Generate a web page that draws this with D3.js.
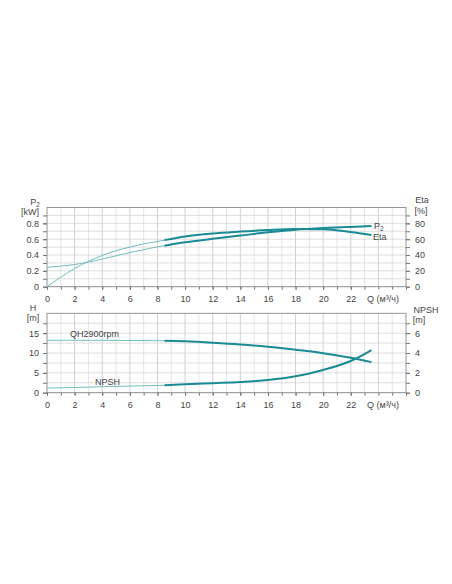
<!DOCTYPE html>
<html>
<head>
<meta charset="utf-8">
<script src="https://cdn.jsdelivr.net/npm/d3@7"></script>
<style>
  body { margin: 0; background: #fff; }
  svg text { font-family: "Liberation Sans", Arial, sans-serif; fill: #444; }
</style>
</head>
<body>
<div id="chart"></div>
<script>
// flow values (m3/h) where the curves were read
const qTop = [0, 1, 2, 3, 4, 5, 6, 7, 8, 8.5, 10, 12, 14, 16, 18, 20, 22, 23.5];
const p2Values = [0.245, 0.26, 0.28, 0.31, 0.35, 0.39, 0.43, 0.468, 0.503, 0.518, 0.56, 0.605, 0.645, 0.686, 0.72, 0.74, 0.755, 0.765];
const etaValues = [0, 12, 23, 32, 39.5, 45.5, 50, 54, 57, 58.8, 63.5, 67.3, 69.6, 71.5, 72.7, 72.5, 69, 65.2];

const qBottom = [0, 2, 4, 6, 8, 8.5, 10, 12, 14, 16, 18, 20, 22, 23.5];
const hValues = [13.2, 13.2, 13.2, 13.15, 13.1, 13.1, 12.95, 12.6, 12.15, 11.55, 10.8, 9.95, 8.8, 7.7];
const npshValues = [0.47, 0.52, 0.6, 0.67, 0.73, 0.74, 0.84, 0.96, 1.08, 1.28, 1.65, 2.29, 3.19, 4.3];

const qTicks = [0, 2, 4, 6, 8, 10, 12, 14, 16, 18, 20, 22];
const p2Ticks = [0, 0.2, 0.4, 0.6, 0.8];
const etaTicks = [0, 20, 40, 60, 80];
const hTicks = [0, 5, 10, 15];
const npshTicks = [0, 2, 4, 6];

const splitQ = 8.5;
const thinColor = '#72bfbf';
const thickColor = '#1a8b95';

const width = 452, height = 584;
const left = 47, right = 406;

const svg = d3.select('#chart')
    .append('svg')
    .attr('width', width)
    .attr('height', height);

const x = d3.scaleLinear().domain([0, 26]).range([left, right]);

const drawPanel = (top, bottom, yL, yR, leftTicks, rightTicks, minorL, minorR, fmtL) => {
    const g = svg.append('g');

    // grid
    g.append('g')
        .selectAll('line')
        .data(d3.range(1, 26))
        .join('line')
        .attr('x1', d => x(d)).attr('x2', d => x(d))
        .attr('y1', top).attr('y2', bottom)
        .attr('stroke', d => d % 2 === 0 ? '#c4c4c4' : '#dedede')
        .attr('stroke-width', 0.8);

    g.append('g')
        .selectAll('line')
        .data(minorL)
        .join('line')
        .attr('x1', left).attr('x2', right)
        .attr('y1', d => yL(d)).attr('y2', d => yL(d))
        .attr('stroke', '#d6d6d6')
        .attr('stroke-width', 0.8);

    // frame
    g.append('rect')
        .attr('x', left).attr('y', top)
        .attr('width', right - left).attr('height', bottom - top)
        .attr('fill', 'none')
        .attr('stroke', '#8a8a8a')
        .attr('stroke-width', 0.9);

    const styleAxis = a => {
        a.select('.domain').remove();
        a.selectAll('line').attr('stroke', '#777');
        a.selectAll('text').attr('font-size', '9px').attr('fill', '#444');
    };

    g.append('g')
        .attr('transform', `translate(${left},0)`)
        .call(d3.axisLeft(yL).tickValues(minorL).tickSize(4).tickFormat(() => ''))
        .call(styleAxis);
    g.append('g')
        .attr('transform', `translate(${left},0)`)
        .call(d3.axisLeft(yL).tickValues(leftTicks).tickSize(4).tickPadding(4).tickFormat(fmtL))
        .call(styleAxis);

    g.append('g')
        .attr('transform', `translate(${right},0)`)
        .call(d3.axisRight(yR).tickValues(minorR).tickSize(4).tickFormat(() => ''))
        .call(styleAxis);
    g.append('g')
        .attr('transform', `translate(${right},0)`)
        .call(d3.axisRight(yR).tickValues(rightTicks).tickSize(4).tickPadding(5))
        .call(styleAxis);

    g.append('g')
        .attr('transform', `translate(0,${bottom})`)
        .call(d3.axisBottom(x).tickValues(d3.range(0, 27)).tickSize(3).tickFormat(() => ''))
        .call(styleAxis);
    g.append('g')
        .attr('transform', `translate(0,${bottom})`)
        .call(d3.axisBottom(x).tickValues(qTicks).tickSize(3).tickPadding(6))
        .call(styleAxis);

    g.append('text')
        .attr('x', 383).attr('y', bottom + 15)
        .attr('text-anchor', 'middle')
        .attr('font-size', '9px')
        .text('Q (м³/ч)');

    return g;
};

const drawCurve = (g, xs, ys, yScale) => {
    const pts = xs.map((q, i) => [q, ys[i]]);
    const line = d3.line()
        .x(d => x(d[0]))
        .y(d => yScale(d[1]))
        .curve(d3.curveMonotoneX);
    g.append('path')
        .attr('d', line(pts.filter(d => d[0] <= splitQ)))
        .attr('fill', 'none')
        .attr('stroke', thinColor)
        .attr('stroke-width', 1);
    g.append('path')
        .attr('d', line(pts.filter(d => d[0] >= splitQ)))
        .attr('fill', 'none')
        .attr('stroke', thickColor)
        .attr('stroke-width', 2);
};

const subLabel = (g, px, py, base, sub, anchor) => {
    const t = g.append('text')
        .attr('x', px).attr('y', py)
        .attr('font-size', '9px')
        .attr('text-anchor', anchor || 'start');
    t.append('tspan').text(base);
    if (sub) t.append('tspan').attr('font-size', '6.5px').attr('dy', 1.5).text(sub);
    return t;
};

// top panel: P2 and Eta
const topT = 207.5, topB = 286.7;
const yP2 = d3.scaleLinear().domain([0, 1]).range([topB, topT]);
const yEta = d3.scaleLinear().domain([0, 100]).range([topB, topT]);
const gTop = drawPanel(topT, topB, yP2, yEta, p2Ticks, etaTicks,
    d3.range(0, 10).map(d => d / 10), d3.range(0, 100, 10), d => d === 0 ? '0' : d3.format('.1f')(d));

drawCurve(gTop, qTop, p2Values, yP2);
drawCurve(gTop, qTop, etaValues, yEta);

subLabel(gTop, 35, 205, 'P', '2', 'middle');
gTop.append('text').attr('x', 30).attr('y', 215).attr('font-size', '9px').attr('text-anchor', 'middle').text('[kW]');
gTop.append('text').attr('x', 422).attr('y', 203).attr('font-size', '9px').attr('text-anchor', 'middle').text('Eta');
gTop.append('text').attr('x', 421).attr('y', 214).attr('font-size', '9px').attr('text-anchor', 'middle').text('[%]');
subLabel(gTop, 374, 229, 'P', '2');
gTop.append('text').attr('x', 373).attr('y', 240).attr('font-size', '9px').text('Eta');

// bottom panel: H and NPSH
const botT = 313.3, botB = 392.7;
const yH = d3.scaleLinear().domain([0, 20]).range([botB, botT]);
const yNpsh = d3.scaleLinear().domain([0, 8]).range([botB, botT]);
const gBot = drawPanel(botT, botB, yH, yNpsh, hTicks, npshTicks,
    d3.range(0, 20, 2.5), d3.range(0, 8, 1), d => d);

drawCurve(gBot, qBottom, hValues, yH);
drawCurve(gBot, qBottom, npshValues, yNpsh);

gBot.append('text').attr('x', 33).attr('y', 311).attr('font-size', '9px').attr('text-anchor', 'middle').text('H');
gBot.append('text').attr('x', 33).attr('y', 321).attr('font-size', '9px').attr('text-anchor', 'middle').text('[m]');
gBot.append('text').attr('x', 426).attr('y', 313).attr('font-size', '9px').attr('text-anchor', 'middle').text('NPSH');
gBot.append('text').attr('x', 419).attr('y', 323).attr('font-size', '9px').attr('text-anchor', 'middle').text('[m]');
gBot.append('text').attr('x', 70).attr('y', 337).attr('font-size', '9px').text('QH2900rpm');
gBot.append('text').attr('x', 95).attr('y', 385).attr('font-size', '9px').text('NPSH');
</script>
</body>
</html>
